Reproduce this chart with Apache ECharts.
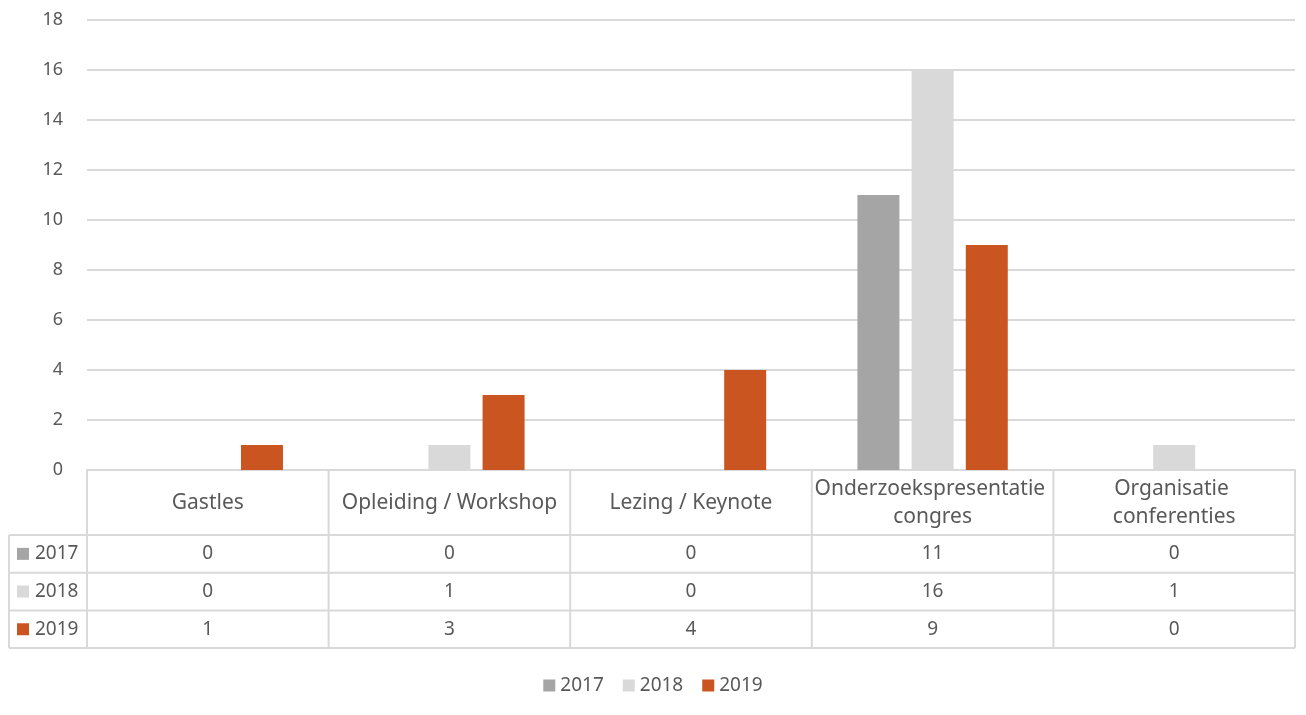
<!DOCTYPE html>
<html>
<head>
<meta charset="utf-8">
<script src="https://cdn.jsdelivr.net/npm/echarts@6/dist/echarts.min.js"></script>
<style>
  html, body { margin: 0; padding: 0; background: #fff; }
  #main { width: 1306px; height: 715px; }
</style>
</head>
<body>
<div id="main"></div>
<script>
// data
var categories = ['Gastles', 'Opleiding / Workshop', 'Lezing / Keynote', 'Onderzoekspresentatie congres', 'Organisatie conferenties']
var years = ['2017', '2018', '2019']
var values2017 = [0, 0, 0, 11, 0]
var values2018 = [0, 1, 0, 16, 1]
var values2019 = [1, 3, 4, 9, 0]
var colors = ['#a5a5a5', '#d9d9d9', '#cb5521']

var allValues = [values2017, values2018, values2019]
var textColor = '#595959'
var lineColor = '#d9d9d9'
var font = 'Noto Sans'

var myChart = echarts.init(document.getElementById('main'))

var option = {
  animation: false,
  color: colors,
  textStyle: { fontFamily: font },
  grid: { left: 87, right: 11, top: 20, bottom: 245 },
  legend: {
    bottom: 15,
    left: 'center',
    icon: 'rect',
    itemWidth: 12,
    itemHeight: 12,
    itemGap: 19,
    textStyle: { color: textColor, fontSize: 19, fontFamily: font },
    data: years
  },
  xAxis: {
    type: 'category',
    data: categories,
    axisTick: { show: false },
    axisLabel: { show: false },
    axisLine: { lineStyle: { color: lineColor, width: 2 } }
  },
  yAxis: {
    type: 'value',
    min: 0,
    max: 18,
    interval: 2,
    axisLine: { show: false },
    axisTick: { show: false },
    axisLabel: { color: textColor, fontSize: 18, margin: 24 },
    splitLine: { lineStyle: { color: lineColor, width: 2 } }
  },
  series: years.map(function (y, i) {
    return {
      name: y,
      type: 'bar',
      barWidth: 42,
      barGap: '29%',
      data: allValues[i]
    }
  })
}
myChart.setOption(option)

// data table under the axis, placed from the axis scale
var x0 = myChart.convertToPixel({ xAxisIndex: 0 }, 0)
var x1 = myChart.convertToPixel({ xAxisIndex: 0 }, 1)
var band = x1 - x0
var yBase = myChart.convertToPixel({ yAxisIndex: 0 }, 0)
var headerH = 65
var rowH = 37.7
var leftEdge = 9
var gridLeft = x0 - band / 2
var gridRight = gridLeft + band * categories.length
var rowTops = [yBase + headerH, yBase + headerH + rowH, yBase + headerH + 2 * rowH]
var tableBottom = yBase + headerH + 3 * rowH

var els = []
function line(xa, ya, xb, yb) {
  els.push({ type: 'line', shape: { x1: xa, y1: ya, x2: xb, y2: yb }, style: { stroke: lineColor, lineWidth: 2 }, silent: true })
}
// horizontal lines
line(leftEdge, rowTops[0], gridRight, rowTops[0])
line(leftEdge, rowTops[1], gridRight, rowTops[1])
line(leftEdge, rowTops[2], gridRight, rowTops[2])
line(leftEdge, tableBottom, gridRight, tableBottom)
// vertical lines
line(leftEdge, rowTops[0], leftEdge, tableBottom)
for (var c = 0; c <= categories.length; c++) {
  var xc = gridLeft + band * c
  line(xc, yBase, xc, tableBottom)
}
// header texts
categories.forEach(function (name, c) {
  els.push({
    type: 'text',
    x: myChart.convertToPixel({ xAxisIndex: 0 }, c),
    y: yBase + headerH / 2 + 1,
    style: {
      text: name, width: band - 5, overflow: 'break',
      align: 'center', verticalAlign: 'middle',
      fill: textColor, font: '21px "' + font + '"', lineHeight: 28
    }
  })
})
// rows
years.forEach(function (y, r) {
  var cy = rowTops[r] + rowH / 2
  els.push({ type: 'rect', shape: { x: 17, y: cy - 6, width: 12, height: 12 }, style: { fill: colors[r] } })
  els.push({
    type: 'text', x: 35, y: cy,
    style: { text: y, align: 'left', verticalAlign: 'middle', fill: textColor, font: '19px "' + font + '"' }
  })
  allValues[r].forEach(function (v, c) {
    els.push({
      type: 'text',
      x: myChart.convertToPixel({ xAxisIndex: 0 }, c),
      y: cy,
      style: { text: String(v), align: 'center', verticalAlign: 'middle', fill: textColor, font: '19px "' + font + '"' }
    })
  })
})
myChart.setOption({ graphic: { elements: els } })
</script>
</body>
</html>
